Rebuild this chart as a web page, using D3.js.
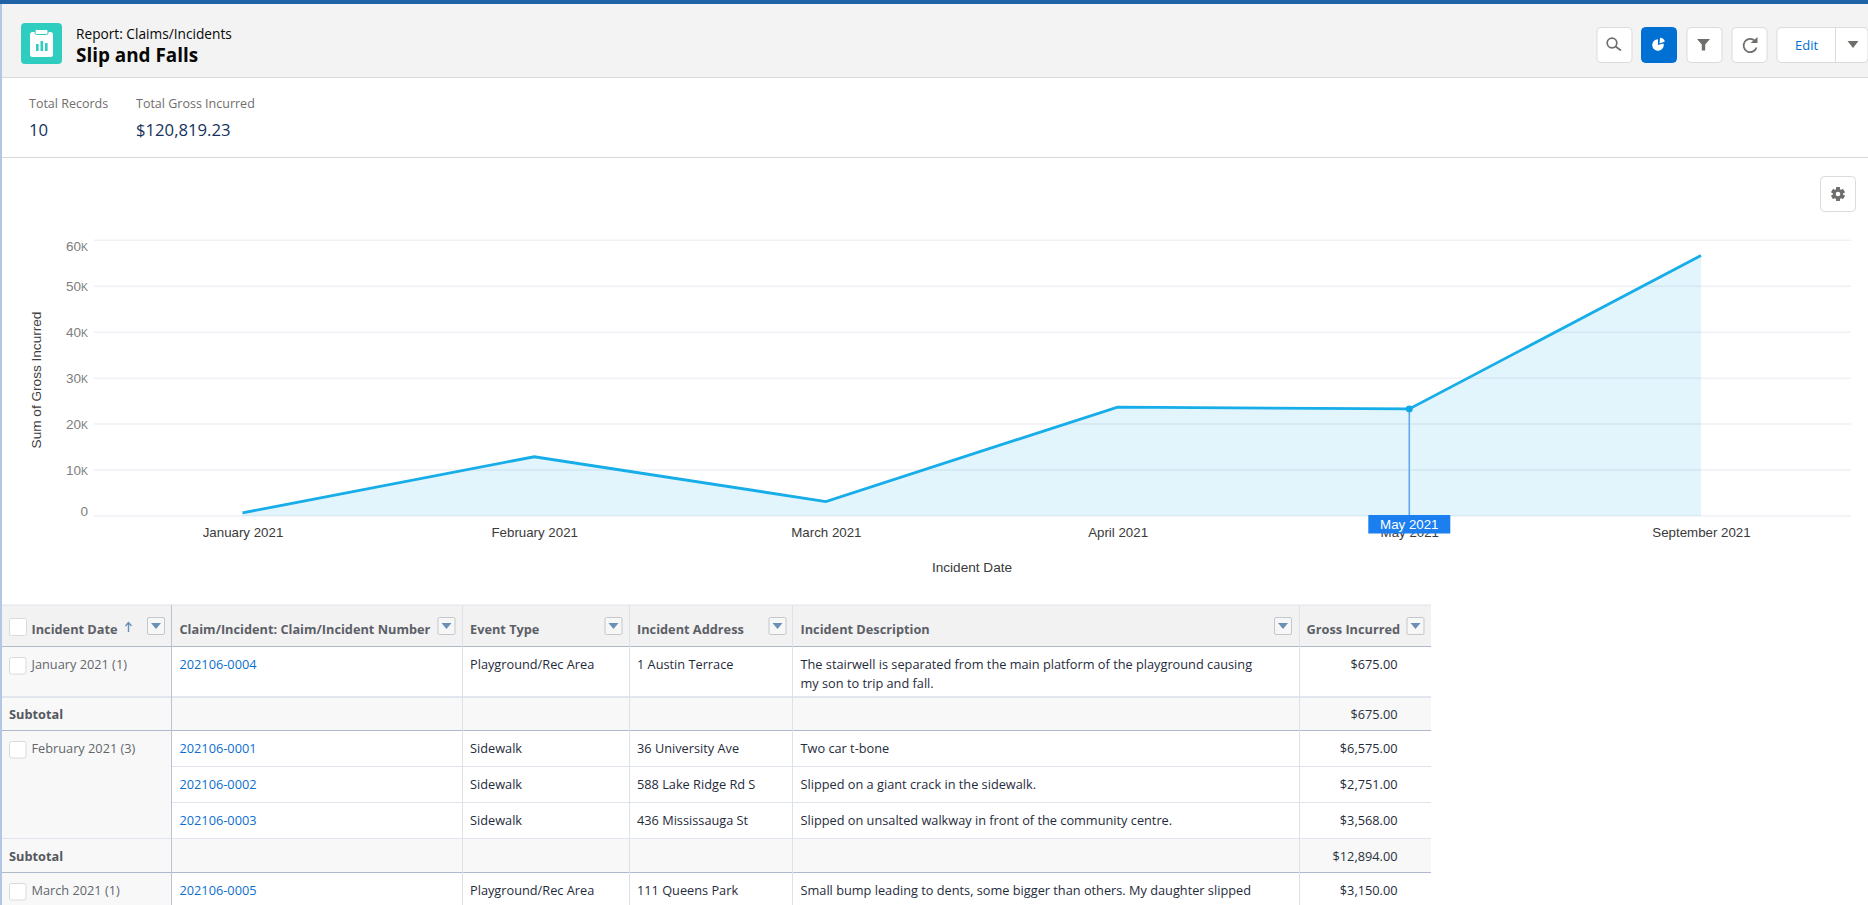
<!DOCTYPE html>
<html>
<head>
<meta charset="utf-8">
<title>Slip and Falls</title>
<script src="https://cdn.jsdelivr.net/npm/d3@7"></script>
<style>
  html, body { margin: 0; padding: 0; background: #fff; overflow: hidden; }
  svg { display: block; }
  .ui { font-family: "Open Sans", "Noto Sans", sans-serif; }
  .chart text { font-family: "Liberation Sans", Arial, sans-serif; }
</style>
</head>
<body>
<svg id="page" width="1868" height="905"></svg>
<script>
// Chart data
const months = ['January 2021', 'February 2021', 'March 2021', 'April 2021', 'May 2021', 'September 2021'];
const grossIncurred = [675, 12894, 3150, 23700, 23300, 56700];
const yTicks = [0, 10000, 20000, 30000, 40000, 50000, 60000];
const highlightMonth = 'May 2021';

// Report summary
const reportType = 'Report: Claims/Incidents';
const reportName = 'Slip and Falls';
const summaryLabels = ['Total Records', 'Total Gross Incurred'];
const summaryValues = ['10', '$120,819.23'];

// Table data
const tableHeaders = ['Incident Date', 'Claim/Incident: Claim/Incident Number', 'Event Type', 'Incident Address', 'Incident Description', 'Gross Incurred'];
const groupLabels = ['January 2021 (1)', 'February 2021 (3)', 'March 2021 (1)'];
const subtotals = ['$675.00', '$12,894.00'];
const claimNumbers = ['202106-0004', '202106-0001', '202106-0002', '202106-0003', '202106-0005'];
const eventTypes = ['Playground/Rec Area', 'Sidewalk', 'Sidewalk', 'Sidewalk', 'Playground/Rec Area'];
const addresses = ['1 Austin Terrace', '36 University Ave', '588 Lake Ridge Rd S', '436 Mississauga St', '111 Queens Park'];
const descriptions = [
    ['The stairwell is separated from the main platform of the playground causing', 'my son to trip and fall.'],
    ['Two car t-bone'],
    ['Slipped on a giant crack in the sidewalk.'],
    ['Slipped on unsalted walkway in front of the community centre.'],
    ['Small bump leading to dents, some bigger than others. My daughter slipped']
];
const amounts = ['$675.00', '$6,575.00', '$2,751.00', '$3,568.00', '$3,150.00'];

const svg = d3.select('#page');

// Page chrome
svg.append('rect').attr('width', 1868).attr('height', 905).attr('fill', '#fff');
svg.append('rect').attr('width', 1868).attr('height', 4).attr('fill', '#1f62a6');
svg.append('rect').attr('y', 4).attr('width', 2).attr('height', 901).attr('fill', '#b3c6e4');

const ui = svg.append('g').attr('class', 'ui');
ui.append('rect').attr('x', 2).attr('y', 4).attr('width', 1866).attr('height', 73).attr('fill', '#f3f3f3');
ui.append('line').attr('x1', 2).attr('x2', 1868).attr('y1', 77.5).attr('y2', 77.5).attr('stroke', '#d8d8d8');
ui.append('line').attr('x1', 2).attr('x2', 1868).attr('y1', 157.5).attr('y2', 157.5).attr('stroke', '#d8d8d8');

// Report icon
const icon = ui.append('g').attr('transform', 'translate(21,23)');
icon.append('rect').attr('width', 41).attr('height', 41).attr('rx', 4).attr('fill', '#2fcdbf');
icon.append('rect').attr('x', 9).attr('y', 9).attr('width', 23).attr('height', 25).attr('rx', 2.5).attr('fill', '#fff');
icon.append('rect').attr('x', 14).attr('y', 6.5).attr('width', 13).attr('height', 5).attr('rx', 1.5).attr('fill', '#fff').attr('stroke', '#2fcdbf');
[[15, 21, 7], [19.5, 18, 10], [24, 20, 8]].forEach(b => {
    icon.append('rect').attr('x', b[0]).attr('y', b[1]).attr('width', 2.6).attr('height', b[2]).attr('fill', '#2fcdbf');
});

ui.append('text').attr('x', 76).attr('y', 39).attr('font-size', 13.7).attr('fill', '#080707').text(reportType);
ui.append('text').attr('x', 76).attr('y', 62).attr('font-size', 18.9).attr('font-weight', 700).attr('fill', '#080707').text(reportName);

// Summary numbers
const summaryX = [29, 136];
summaryLabels.forEach((label, i) => {
    ui.append('text').attr('x', summaryX[i]).attr('y', 108).attr('font-size', 12.5).attr('fill', '#706e6b').text(label);
    ui.append('text').attr('x', summaryX[i]).attr('y', 136).attr('font-size', 16.7).attr('fill', '#16325c').text(summaryValues[i]);
});

// Toolbar buttons
function button(x, y, w, fill) {
    return ui.append('rect').attr('x', x + 0.5).attr('y', y + 0.5).attr('width', w).attr('height', 35).attr('rx', 4)
        .attr('fill', fill).attr('stroke', fill === '#fff' ? '#dddbda' : fill);
}
button(1596.5, 27, 35, '#fff');
button(1641, 27, 35, '#0070d2');
button(1686.5, 27, 35, '#fff');
button(1731.5, 27, 35, '#fff');
button(1776.5, 27, 91, '#fff');
button(1820, 176, 35, '#fff');
ui.append('line').attr('x1', 1835.5).attr('x2', 1835.5).attr('y1', 28).attr('y2', 62).attr('stroke', '#dddbda');
ui.append('text').attr('x', 1806.5).attr('y', 50).attr('text-anchor', 'middle').attr('font-size', 13).attr('fill', '#0070d2').text('Edit');

// search
ui.append('circle').attr('cx', 1612).attr('cy', 43).attr('r', 4.8).attr('fill', 'none').attr('stroke', '#706e6b').attr('stroke-width', 1.7);
ui.append('line').attr('x1', 1615.5).attr('y1', 46.5).attr('x2', 1621).attr('y2', 50.5).attr('stroke', '#706e6b').attr('stroke-width', 1.7);
// pie on the active button
const pieArc = d3.arc().innerRadius(0).outerRadius(5.8);
ui.append('path').attr('transform', 'translate(1658,45)').attr('fill', '#fff')
    .attr('d', pieArc({ startAngle: Math.PI / 2.4, endAngle: Math.PI * 2 }));
ui.append('path').attr('transform', 'translate(1659.5,43.5)').attr('fill', '#fff')
    .attr('d', pieArc({ startAngle: 0.1, endAngle: Math.PI / 2.6 }));
// filter
ui.append('path').attr('fill', '#706e6b').attr('d', 'M1697 39h13l-4.8 5.5v6h-3.4v-6z');
// refresh
ui.append('path').attr('fill', 'none').attr('stroke', '#706e6b').attr('stroke-width', 1.7).attr('d', 'M1755 41a6.6 6.6 0 1 0 1.5 6.5');
ui.append('path').attr('fill', '#706e6b').attr('d', 'M1750.5 43h7v-6z');
// edit menu arrow
ui.append('path').attr('fill', '#706e6b').attr('d', 'M1847.5 41h11l-5.5 7z');
// gear
const gear = ui.append('g').attr('transform', 'translate(1838,194)');
d3.range(6).forEach(i => {
    gear.append('rect').attr('x', -1.9).attr('y', -6.8).attr('width', 3.8).attr('height', 13.6).attr('fill', '#706e6b')
        .attr('transform', `rotate(${i * 30 * 2})`);
});
gear.append('circle').attr('r', 5.2).attr('fill', '#706e6b');
gear.append('circle').attr('r', 2.3).attr('fill', '#fff');

// Line chart
const chart = svg.append('g').attr('class', 'chart');
const x = d3.scalePoint().domain(months).range([242.5, 1701]);
const y = d3.scaleLinear().domain([0, 60000]).range([516, 240.3]);
const gridLeft = 94;
const gridRight = 1851;

const fmtTick = d => d === 0 ? '0' : (d / 1000) + 'K';
const yAxis = d3.axisLeft(y).tickValues(yTicks).tickSize(0).tickPadding(6).tickFormat(fmtTick);
const yG = chart.append('g').attr('transform', `translate(${gridLeft},0)`).call(yAxis);
yG.select('.domain').remove();
yG.selectAll('.tick text')
    .attr('font-size', 13.5)
    .attr('fill', '#7e7e7e')
    // first and last labels sit inside the plot, like the original
    .attr('dy', d => d === 0 ? '-0.05em' : d === 60000 ? '0.75em' : '0.32em')
    .each(function (d) {
        if (d === 0) return;
        const t = d3.select(this);
        t.text(d / 1000);
        t.append('tspan').attr('font-size', 10.5).text('K');
    });

chart.append('g').selectAll('line')
    .data(yTicks)
    .join('line')
    .attr('x1', gridLeft)
    .attr('x2', gridRight)
    .attr('y1', d => y(d))
    .attr('y2', d => y(d))
    .attr('stroke', '#eef1f6')
    .attr('stroke-width', 1.5);

const points = months.map((m, i) => ({ month: m, value: grossIncurred[i] }));

chart.append('path')
    .datum(points)
    .attr('fill', '#1aa7e6')
    .attr('fill-opacity', 0.125)
    .attr('d', d3.area().x(d => x(d.month)).y0(y(0)).y1(d => y(d.value)));

chart.append('path')
    .datum(points)
    .attr('fill', 'none')
    .attr('stroke', '#16ade8')
    .attr('stroke-width', 2.8)
    .attr('d', d3.line().x(d => x(d.month)).y(d => y(d.value)));

const xAxis = d3.axisBottom(x).tickSize(0).tickPadding(12);
const xG = chart.append('g').attr('transform', `translate(0,${y(0)})`).call(xAxis);
xG.select('.domain').remove();
xG.selectAll('.tick text').attr('font-size', 13.3).attr('fill', '#3a3a3a');

chart.append('text')
    .attr('transform', 'translate(41,380) rotate(-90)')
    .attr('text-anchor', 'middle')
    .attr('font-size', 13.6)
    .attr('fill', '#3e3e3e')
    .text('Sum of Gross Incurred');
chart.append('text')
    .attr('x', 972)
    .attr('y', 572)
    .attr('text-anchor', 'middle')
    .attr('font-size', 13.6)
    .attr('fill', '#3a3a3a')
    .text('Incident Date');

// Hover marker on May
const hover = points.find(d => d.month === highlightMonth);
chart.append('line')
    .attr('x1', x(hover.month))
    .attr('x2', x(hover.month))
    .attr('y1', y(hover.value))
    .attr('y2', y(0))
    .attr('stroke', '#5ea8ef')
    .attr('stroke-width', 1.6);
chart.append('circle')
    .attr('cx', x(hover.month))
    .attr('cy', y(hover.value))
    .attr('r', 3.4)
    .attr('fill', '#0fa8e6');
chart.append('rect')
    .attr('x', x(hover.month) - 41)
    .attr('y', 515)
    .attr('width', 82)
    .attr('height', 18.5)
    .attr('fill', '#1b7fef');
chart.append('text')
    .attr('x', x(hover.month))
    .attr('y', 529)
    .attr('text-anchor', 'middle')
    .attr('font-size', 13.3)
    .attr('fill', '#fff')
    .text(highlightMonth);

// Table
const tableFont = 12.75;
const table = svg.append('g').attr('class', 'ui');
const colEdges = [2, 171.5, 462.5, 629.5, 792.5, 1299.5, 1431];
const colText = [31.5, 179.5, 470, 637, 800.5];
const amountRight = 1397.5;
const filterX = [147, 437.5, 604.5, 768.5, 1274, 1406.5];
const headerTop = 605;
const headerBottom = 646;

// vertical spans of each row, top to bottom
const dataRows = [
    { top: 646, bottom: 696, claim: 0 },
    { top: 730, bottom: 766, claim: 1 },
    { top: 766, bottom: 802, claim: 2 },
    { top: 802, bottom: 838, claim: 3 },
    { top: 872, bottom: 908, claim: 4 }
];
const subtotalRows = [
    { top: 696, bottom: 730, amount: 0 },
    { top: 838, bottom: 872, amount: 1 }
];
const groupRows = [
    { top: 646, bottom: 696, label: 0 },
    { top: 730, bottom: 838, label: 1 },
    { top: 872, bottom: 908, label: 2 }
];

table.append('rect').attr('x', colEdges[0]).attr('y', headerTop).attr('width', colEdges[6] - colEdges[0]).attr('height', headerBottom - headerTop).attr('fill', '#f2f2f3');
table.append('line').attr('x1', colEdges[0]).attr('x2', colEdges[6]).attr('y1', headerTop).attr('y2', headerTop).attr('stroke', '#dfe3ec');

table.append('g').selectAll('rect')
    .data(groupRows)
    .join('rect')
    .attr('x', colEdges[0])
    .attr('y', d => d.top)
    .attr('width', colEdges[1] - colEdges[0])
    .attr('height', d => d.bottom - d.top)
    .attr('fill', '#f8f8f9');

table.append('g').selectAll('rect')
    .data(subtotalRows)
    .join('rect')
    .attr('x', colEdges[0])
    .attr('y', d => d.top)
    .attr('width', colEdges[6] - colEdges[0])
    .attr('height', d => d.bottom - d.top)
    .attr('fill', '#f8f8f9');

// row rules
table.append('g').selectAll('line')
    .data(dataRows.slice(1, 3).map(d => d.bottom))
    .join('line')
    .attr('x1', colEdges[1])
    .attr('x2', colEdges[6])
    .attr('y1', d => d + 0.5)
    .attr('y2', d => d + 0.5)
    .attr('stroke', '#e0e4ec');
table.append('line').attr('x1', colEdges[0]).attr('x2', colEdges[6]).attr('y1', 697).attr('y2', 697).attr('stroke', '#e3e6ee').attr('stroke-width', 2);
table.append('line').attr('x1', colEdges[0]).attr('x2', colEdges[6]).attr('y1', 838.5).attr('y2', 838.5).attr('stroke', '#e0e4ec');
table.append('g').selectAll('line')
    .data([headerBottom, 730, 872])
    .join('line')
    .attr('x1', colEdges[0])
    .attr('x2', colEdges[6])
    .attr('y1', d => d + 0.5)
    .attr('y2', d => d + 0.5)
    .attr('stroke', '#aebacb');

// column rules
table.append('g').selectAll('line')
    .data(colEdges.slice(1, 6))
    .join('line')
    .attr('x1', d => d)
    .attr('x2', d => d)
    .attr('y1', headerTop)
    .attr('y2', 905)
    .attr('stroke', (d, i) => i === 0 ? '#b8c4d4' : '#dde1ea');

// header labels + filter buttons
const headerX = colText.concat([1306.5]);
table.append('g').selectAll('text')
    .data(tableHeaders)
    .join('text')
    .attr('x', (d, i) => headerX[i])
    .attr('y', 634)
    .attr('font-size', tableFont)
    .attr('font-weight', 700)
    .attr('fill', '#5c6066')
    .text(d => d);
filterX.forEach(fx => {
    table.append('rect').attr('x', fx + 0.5).attr('y', 617.5).attr('width', 17).attr('height', 17).attr('rx', 1.5).attr('fill', '#f7f7f8').attr('stroke', '#c4c7cc');
    table.append('path').attr('fill', '#6c8fb5').attr('d', `M${fx + 4} 623h10l-5 6z`);
});
// sort arrow
table.append('path').attr('fill', 'none').attr('stroke', '#6c8fb5').attr('stroke-width', 1.4).attr('d', 'M128.5 632v-9M125.5 626l3-3.5 3 3.5');

// checkboxes
function checkbox(cx, top, size) {
    table.append('rect').attr('x', cx).attr('y', top).attr('width', size).attr('height', size).attr('rx', 2).attr('fill', '#fff').attr('stroke', '#d8dadd');
}
checkbox(9.5, 618.5, 17);
groupRows.forEach(d => checkbox(9.5, d.top + 11.5, 16.5));

// group labels and subtotal rows
table.append('g').selectAll('text')
    .data(groupRows)
    .join('text')
    .attr('x', colText[0])
    .attr('y', d => d.top + 23)
    .attr('font-size', tableFont)
    .attr('fill', '#62666b')
    .text(d => groupLabels[d.label]);
table.append('g').selectAll('text')
    .data(subtotalRows)
    .join('text')
    .attr('x', 9)
    .attr('y', d => d.top + 23)
    .attr('font-size', tableFont)
    .attr('font-weight', 700)
    .attr('fill', '#54585e')
    .text('Subtotal');
table.append('g').selectAll('text')
    .data(subtotalRows)
    .join('text')
    .attr('x', amountRight)
    .attr('y', d => d.top + 23)
    .attr('text-anchor', 'end')
    .attr('font-size', tableFont)
    .attr('fill', '#28323c')
    .text(d => subtotals[d.amount]);

// record rows
const rowGroups = table.append('g').selectAll('g')
    .data(dataRows)
    .join('g')
    .attr('transform', d => `translate(0,${d.top + 23})`)
    .attr('font-size', tableFont)
    .attr('fill', '#1f2c3c');
rowGroups.append('text').attr('x', colText[1]).attr('fill', '#0b6fd0').text(d => claimNumbers[d.claim]);
rowGroups.append('text').attr('x', colText[2]).text(d => eventTypes[d.claim]);
rowGroups.append('text').attr('x', colText[3]).text(d => addresses[d.claim]);
rowGroups.append('text').attr('x', amountRight).attr('text-anchor', 'end').text(d => amounts[d.claim]);
rowGroups.each(function (d) {
    d3.select(this).selectAll('.desc')
        .data(descriptions[d.claim])
        .join('text')
        .attr('class', 'desc')
        .attr('x', colText[4])
        .attr('y', (t, i) => i * 18.5)
        .text(t => t);
});
</script>
</body>
</html>
